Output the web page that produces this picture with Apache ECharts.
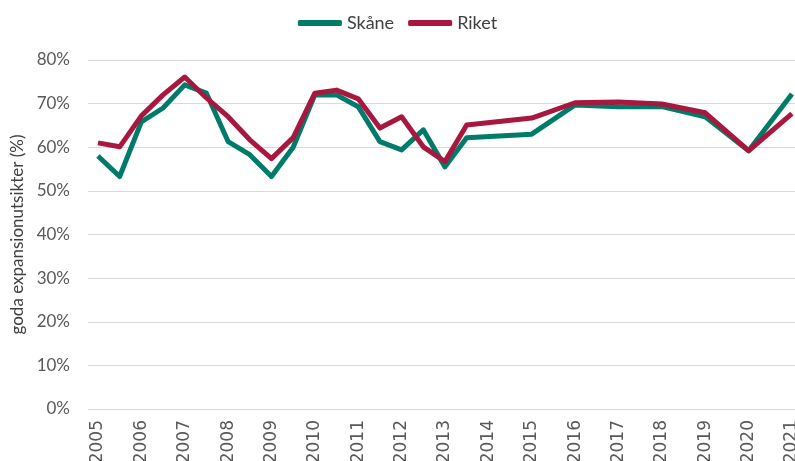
<!DOCTYPE html>
<html>
<head>
<meta charset="utf-8">
<script src="https://cdn.jsdelivr.net/npm/echarts@6/dist/echarts.min.js"></script>
<style>
  html, body { margin: 0; padding: 0; background: #fff; }
  #chart { width: 795px; height: 461px; }
</style>
</head>
<body>
<div id="chart"></div>
<script>
// mätpunkter (halvår fram till 2013, sedan helår)
const periods = [2005, 2005.5, 2006, 2006.5, 2007, 2007.5, 2008, 2008.5, 2009, 2009.5,
  2010, 2010.5, 2011, 2011.5, 2012, 2012.5, 2013, 2013.5,
  2015, 2016, 2017, 2018, 2019, 2020, 2021]
const skane = [58, 53.3, 65.8, 69, 74.3, 72.4, 61.3, 58.3, 53.3, 60,
  72, 72, 69.3, 61.3, 59.4, 64, 55.5, 62.2,
  63, 69.7, 69.3, 69.3, 67, 59.2, 72.2]
const riket = [61, 60.1, 67.2, 72, 76.1, 71.3, 67, 61.7, 57.4, 62.2,
  72.4, 73.1, 71.1, 64.4, 67, 60.1, 56.7, 65.1,
  66.7, 70.2, 70.4, 69.9, 67.9, 59.2, 67.7]
const yearLabels = [2005, 2006, 2007, 2008, 2009, 2010, 2011, 2012, 2013,
  2014, 2015, 2016, 2017, 2018, 2019, 2020, 2021]

const chart = echarts.init(document.getElementById('chart'))

function pairs(values) {
  return periods.map((p, i) => [p, values[i]])
}

chart.setOption({
  animation: false,
  textStyle: { fontFamily: 'Lato, sans-serif' },
  legend: {
    top: 9,
    left: 'center',
    icon: 'roundRect',
    itemWidth: 44,
    itemHeight: 6,
    itemGap: 14,
    textStyle: { color: '#404040', fontSize: 18, fontFamily: 'Lato, sans-serif' },
    data: ['Skåne', 'Riket']
  },
  grid: { left: 88, right: 0, top: 60, bottom: 52, outerBoundsMode: 'none' },
  xAxis: {
    type: 'value',
    min: 2004.77,
    max: 2021.07,
    axisLine: { show: false },
    axisTick: { show: false },
    splitLine: { show: false },
    axisLabel: {
      customValues: yearLabels,
      rotate: 90,
      margin: 11,
      color: '#595959',
      fontSize: 17,
      fontFamily: 'DejaVu Sans, sans-serif',
      formatter: (v) => String(v)
    }
  },
  yAxis: {
    type: 'value',
    min: 0,
    max: 80,
    interval: 10,
    name: 'goda expansionutsikter (%)',
    nameLocation: 'middle',
    nameGap: 58,
    nameTextStyle: { color: '#404040', fontSize: 17, fontFamily: 'Lato, sans-serif' },
    axisLine: { show: false },
    axisTick: { show: false },
    axisLabel: {
      color: '#595959',
      fontSize: 17,
      margin: 18,
      formatter: '{value}%'
    },
    splitLine: { lineStyle: { color: '#d9d9d9', width: 1 } }
  },
  series: [
    {
      name: 'Skåne',
      type: 'line',
      data: pairs(skane),
      showSymbol: false,
      symbol: 'none',
      color: '#007b69',
      lineStyle: { width: 5, color: '#007b69', join: 'round' }
    },
    {
      name: 'Riket',
      type: 'line',
      data: pairs(riket),
      showSymbol: false,
      symbol: 'none',
      color: '#a8173e',
      lineStyle: { width: 5, color: '#a8173e', join: 'round' }
    }
  ]
})
</script>
</body>
</html>
